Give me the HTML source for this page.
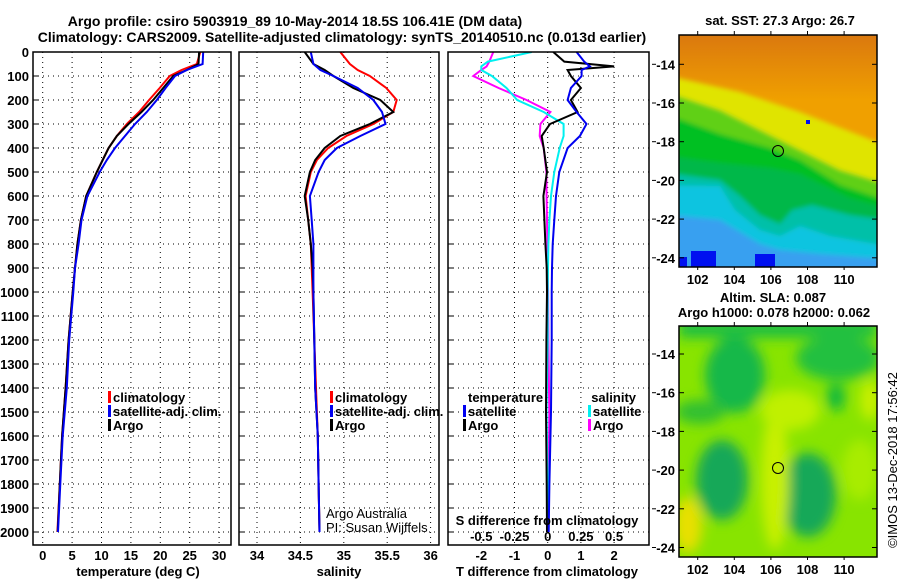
<!DOCTYPE html>
<html><head><meta charset="utf-8"><style>
html,body{margin:0;padding:0;background:#fff;width:900px;height:580px;overflow:hidden}
svg{display:block}
text{font-family:"Liberation Sans",sans-serif;fill:#000}
.b{font-weight:bold;font-size:13px}
.t{font-weight:bold;font-size:14px}
</style></head><body>
<svg id="chart" width="900" height="580" viewBox="0 0 900 580">
<defs>
<linearGradient id="sstTop" x1="0" y1="0" x2="0" y2="1">
<stop offset="0" stop-color="#d87410"/><stop offset="1" stop-color="#f0a000"/></linearGradient>
<filter id="blur1" x="-20%" y="-20%" width="140%" height="140%"><feGaussianBlur stdDeviation="2.5"/></filter>
<filter id="blur2" x="-50%" y="-50%" width="200%" height="200%"><feGaussianBlur stdDeviation="6"/></filter>
<clipPath id="m1clip"><rect x="679" y="35" width="198" height="232"/></clipPath>
<clipPath id="m2clip"><rect x="679" y="326" width="198" height="231"/></clipPath>
<clipPath id="p1clip"><rect x="33" y="52" width="198" height="493"/></clipPath>
<clipPath id="p2clip"><rect x="239" y="52" width="200" height="493"/></clipPath>
<clipPath id="p3clip"><rect x="448" y="52" width="201" height="493"/></clipPath>
</defs>
<text class="t" x="295" y="26" text-anchor="middle">Argo profile: csiro 5903919_89 10-May-2014 18.5S 106.41E (DM data)</text>
<text class="t" x="342" y="42" text-anchor="middle">Climatology: CARS2009. Satellite-adjusted climatology: synTS_20140510.nc (0.013d earlier)</text>
<g id="panels"></g>
<g id="maps">
<g clip-path="url(#m1clip)">
<rect x="679" y="35" width="198" height="232" fill="#f0a000"/>
<rect x="679" y="35" width="198" height="65" fill="url(#sstTop)" opacity="0.9"/>
<g filter="url(#blur1)">
<polygon points="660,74 740,92 800,112 877,142 900,142 900,290 660,290" fill="#e0e400"/>
<polygon points="660,90 720,110 760,130 800,150 840,170 900,188 900,290 660,290" fill="#60d018"/>
<polygon points="660,112 720,134 770,148 800,160 840,185 900,205 900,290 660,290" fill="#00c020"/>
<polygon points="660,155 720,163 770,168 800,174 850,198 900,212 900,290 660,290" fill="#00b848"/>
<polygon points="660,172 720,180 740,196 760,215 780,224 792,210 812,205 850,215 900,222 900,290 660,290" fill="#00c0a8"/>
<polygon points="660,185 720,186 735,210 760,230 780,236 800,226 830,236 900,248 900,290 660,290" fill="#10c4e0"/>
<polygon points="660,214 720,220 760,244 780,250 820,254 900,260 900,290 660,290" fill="#38a0f0"/>
</g>
<rect x="679" y="257" width="8" height="10" fill="#0010f0"/>
<rect x="691" y="251" width="25" height="16" fill="#0010f0"/>
<rect x="755" y="254" width="20" height="13" fill="#0010f0"/>
<rect x="806" y="120" width="4" height="4" fill="#0010f0"/>
</g>
<rect x="679" y="35" width="198" height="232" fill="none" stroke="#000" stroke-width="1.5"/>
<circle cx="778" cy="151" r="5.5" fill="none" stroke="#000"/>
<g clip-path="url(#m2clip)">
<rect x="679" y="326" width="198" height="231" fill="#88e400"/>
<g filter="url(#blur2)">
<rect x="679" y="318" width="198" height="20" fill="#20c040"/>
<ellipse cx="735" cy="375" rx="30" ry="38" fill="#18b848"/>
<ellipse cx="700" cy="412" rx="25" ry="12" fill="#30c030"/>
<ellipse cx="838" cy="358" rx="42" ry="22" fill="#20c040"/>
<ellipse cx="836" cy="397" rx="9" ry="14" fill="#10b840"/>
<ellipse cx="722" cy="480" rx="26" ry="40" fill="#18a858"/>
<ellipse cx="808" cy="495" rx="28" ry="42" fill="#18a858"/>
<ellipse cx="775" cy="480" rx="14" ry="70" fill="#c8f000"/>
<ellipse cx="790" cy="410" rx="30" ry="20" fill="#c0f000"/>
<ellipse cx="688" cy="525" rx="14" ry="28" fill="#e8e000"/>
<ellipse cx="870" cy="400" rx="10" ry="20" fill="#c8f000"/>
<ellipse cx="860" cy="470" rx="18" ry="30" fill="#a8ec00"/>
</g>
</g>
<rect x="679" y="326" width="198" height="231" fill="none" stroke="#000" stroke-width="1.5"/>
<circle cx="778" cy="468" r="5.5" fill="none" stroke="#000"/>
<text class="b" x="780" y="25" text-anchor="middle">sat. SST: 27.3 Argo: 26.7</text>
<text class="b" x="773" y="302" text-anchor="middle">Altim. SLA: 0.087</text>
<text class="b" x="774" y="317" text-anchor="middle">Argo h1000: 0.078 h2000: 0.062</text>
<text x="897" y="460" font-size="13" text-anchor="middle" transform="rotate(-90 897 460)">©IMOS 13-Dec-2018 17:56:42</text>
<g id="mapAxes"></g>
</g>
</svg>
<script>
// ---- data ----
const depths = [0,50,75,100,150,200,250,300,350,400,450,500,600,700,800,900,1000,1200,1400,1600,1800,2000];
const tempArgo = [26.6,26.5,24.5,22.2,20.5,18.8,16.8,14.6,12.6,11.2,10.2,9.2,7.4,6.5,5.9,5.5,5.1,4.4,3.9,3.3,2.9,2.55];
const tempClim = [26.8,26.2,23.6,21.6,19.9,18.1,16.4,14.3,12.6,11.2,10.2,9.2,7.4,6.5,5.9,5.5,5.1,4.4,3.9,3.3,2.9,2.5];
const tempSat = [27.3,27.2,24.5,22.5,20.9,19.4,17.7,15.7,14.0,12.3,10.9,9.7,7.6,6.6,6.1,5.5,5.2,4.5,4.1,3.4,3.0,2.6];
const salArgo = [34.55,34.65,34.78,34.88,35.11,35.42,35.57,35.30,34.96,34.78,34.67,34.61,34.55,34.59,34.62,34.64,34.65,34.66,34.67,34.70,34.71,34.72];
const salClim = [34.96,35.07,35.16,35.30,35.49,35.61,35.57,35.34,35.03,34.82,34.69,34.62,34.56,34.59,34.62,34.63,34.64,34.66,34.68,34.70,34.71,34.72];
const salSat = [34.62,34.65,34.73,34.88,35.16,35.34,35.44,35.48,35.19,34.92,34.78,34.71,34.61,34.63,34.65,34.65,34.65,34.66,34.67,34.70,34.71,34.72];
const diffDepths = [0,40,60,75,100,150,200,250,300,350,400,500,600,700,800,900,1000,1200,1500,1800,2000];
const dTArgo = [0.17,0.5,2.0,0.6,0.7,1.0,0.7,0.9,0.07,-0.18,-0.12,-0.02,-0.13,-0.1,-0.07,-0.03,-0.02,-0.04,-0.05,-0.03,-0.02];
const dTSat = [0.87,1.1,1.27,1.02,1.02,0.7,0.6,0.87,1.17,0.97,0.6,0.35,0.25,0.2,0.15,0.13,0.12,0.12,0.1,0.05,0.03];
const dSSat = [-0.12,-0.45,-0.5,-0.5,-0.42,-0.31,-0.23,-0.03,0.12,0.12,0.09,0.05,0.025,0.013,0.005,0.002,0,0,-0.008,0,0];
const dSArgo = [-0.41,-0.44,-0.46,-0.5,-0.56,-0.37,-0.16,0.02,-0.055,-0.06,-0.03,-0.01,-0.008,-0.005,-0.003,0,0.003,0.005,0.012,0.008,0.005];
const depthTicks = [0,100,200,300,400,500,600,700,800,900,1000,1100,1200,1300,1400,1500,1600,1700,1800,1900,2000];
const tempTicks = [0,5,10,15,20,25,30];
const salTicks = [34,34.5,35,35.5,36];
const tdiffTicks = [-2,-1,0,1,2];
const sdiffTicks = [-0.5,-0.25,0,0.25,0.5];
const sdiffTickLabels = ["-0.5","-0.25","0","0.25","0.5"];
const mapLons = [102,104,106,108,110];
const mapLats = [-14,-16,-18,-20,-22,-24];

const NS='http://www.w3.org/2000/svg';
const yD = d => 52 + 0.24*d;
const xT = t => 42.7 + 5.88*t;
const xS = s => 257 + 86.8*(s-34);
const xDT = t => 547.7 + 33.2*t;
const xDS = s => 547.7 + 132.8*s;
const root = document.getElementById('panels');
function mk(tag, attrs, parent){const e=document.createElementNS(NS,tag);for(const k in attrs)e.setAttribute(k,attrs[k]);(parent||root).appendChild(e);return e;}
function txt(s,x,y,cls,anchor,parent){const e=mk('text',{x:x,y:y,'class':cls||'b','text-anchor':anchor||'middle'},parent);e.textContent=s;return e;}

const panels=[{x0:33,x1:231,name:'temperature-panel'},{x0:239,x1:439,name:'salinity-panel'},{x0:448,x1:649,name:'difference-panel'}];
panels.forEach(p=>{
  const g=mk('g',{});
  
  
  p.g=g;
  depthTicks.forEach(d=>{
    const l=mk('line',{x1:p.x0,x2:p.x1,y1:yD(d),y2:yD(d),stroke:'#000','stroke-width':1,'stroke-dasharray':'1,4'},g);
    
    
    const tk=mk('line',{x1:p.x0,x2:p.x0+5,y1:yD(d),y2:yD(d),stroke:'#000'},g);
    
    
  });
});
function vgrid(p,vals,fx,labels,ly){
  vals.forEach((v,i)=>{
    const l=mk('line',{x1:fx(v),x2:fx(v),y1:52,y2:545,stroke:'#000','stroke-width':1,'stroke-dasharray':'1,4'},p.g);
    
    
    const t=txt(labels?labels[i]:String(v),fx(v),ly,'b','middle',p.g);
    
    
  });
}
vgrid(panels[0],tempTicks,xT,null,560);
vgrid(panels[1],salTicks,xS,null,560);
vgrid(panels[2],tdiffTicks,xDT,null,560);
sdiffTicks.forEach((v,i)=>{
  const t=txt(sdiffTickLabels[i],xDS(v),541,'b','middle',panels[2].g);
  
  
});
depthTicks.forEach(d=>{
  const t=txt(String(d),29,yD(d)+5,'b','end');
  
  
});
[[138,'temperature (deg C)','x-axis-title-temperature'],[339,'salinity','x-axis-title-salinity'],[547,'T difference from climatology','x-axis-title-t-diff']].forEach(a=>{
  const t=txt(a[1],a[0],576);
  
  
});
const sdt=txt('S difference from climatology',547,525);



function series(p,dep,vals,fx,color,name,clip){
  const pts=dep.map((d,i)=>fx(vals[i]).toFixed(1)+','+yD(d).toFixed(1)).join(' ');
  const l=mk('polyline',{points:pts,fill:'none',stroke:color,'stroke-width':2,'clip-path':'url(#'+clip+')'},p.g);
  
  
}
series(panels[0],depths,tempClim,xT,'#f00','temp-climatology-line','p1clip');
series(panels[0],depths,tempArgo,xT,'#000','temp-argo-line','p1clip');
series(panels[0],depths,tempSat,xT,'#0000f0','temp-satellite-line','p1clip');
series(panels[1],depths,salClim,xS,'#f00','sal-climatology-line','p2clip');
series(panels[1],depths,salArgo,xS,'#000','sal-argo-line','p2clip');
series(panels[1],depths,salSat,xS,'#0000f0','sal-satellite-line','p2clip');
series(panels[2],diffDepths,dSArgo,xDS,'#f0f','s-diff-argo-line','p3clip');
series(panels[2],diffDepths,dSSat,xDS,'#00f0f0','s-diff-satellite-line','p3clip');
series(panels[2],diffDepths,dTArgo,xDT,'#000','t-diff-argo-line','p3clip');
series(panels[2],diffDepths,dTSat,xDT,'#0000f0','t-diff-satellite-line','p3clip');

panels.forEach(p=>{
  const r=mk('rect',{x:p.x0,y:52,width:p.x1-p.x0,height:493,fill:'none',stroke:'#000','stroke-width':1.5},p.g);
  
  
});

function legend(x,y,color,label,anchor){
  const g=mk('g',{});
  
  
  const bx = anchor==='end' ? x-label.length*7.3-6 : x-5;
  mk('rect',{x:bx,y:y-11,width:3,height:12,fill:color},g);
  txt(label,x,y,'b',anchor||'start',g);
}
legend(113,402,'#f00','climatology');
legend(113,416,'#0000f0','satellite-adj. clim.');
legend(113,430,'#000','Argo');
legend(335,402,'#f00','climatology');
legend(335,416,'#0000f0','satellite-adj. clim.');
legend(335,430,'#000','Argo');
const lt=txt('temperature',468,402,'b','start');  
legend(468,416,'#0000f0','satellite');
legend(468,430,'#000','Argo');
const ls=txt('salinity',636,402,'b','end');  
legend(593,416,'#00f0f0','satellite');
legend(593,430,'#f0f','Argo');
const c1=mk('text',{x:326,y:518,'font-size':13,'text-anchor':'start'}); c1.textContent='Argo Australia';
 
const c2=mk('text',{x:326,y:532,'font-size':13,'text-anchor':'start'}); c2.textContent='PI: Susan Wijffels';
 

// map axes
const ma=document.getElementById('mapAxes');
[[35,267,64.3,'sst'],[326,557,354,'sla']].forEach(m=>{
  const [top,bot,y14,nm]=m;
  const yL = lat => y14 + (-14-lat)*19.35;
  const xL = lon => 697.7 + (lon-102)*18.3;
  mapLats.forEach(lat=>{
    const t=txt(String(lat),675,yL(lat)+5,'b','end',ma);
    
    
    mk('line',{x1:679,x2:684,y1:yL(lat),y2:yL(lat),stroke:'#000'},ma);
    mk('line',{x1:872,x2:877,y1:yL(lat),y2:yL(lat),stroke:'#000'},ma);
    mk('line',{x1:652,x2:656,y1:yL(lat),y2:yL(lat),stroke:'#000'},ma);
  });
  mapLons.forEach(lon=>{
    const t=txt(String(lon),xL(lon),bot+17,'b','middle',ma);
    
    
    mk('line',{x1:xL(lon),x2:xL(lon),y1:top-4,y2:top,stroke:'#000'},ma);
    mk('line',{x1:xL(lon),x2:xL(lon),y1:bot,y2:bot+3,stroke:'#000'},ma);
  });
});
</script>
</body></html>
